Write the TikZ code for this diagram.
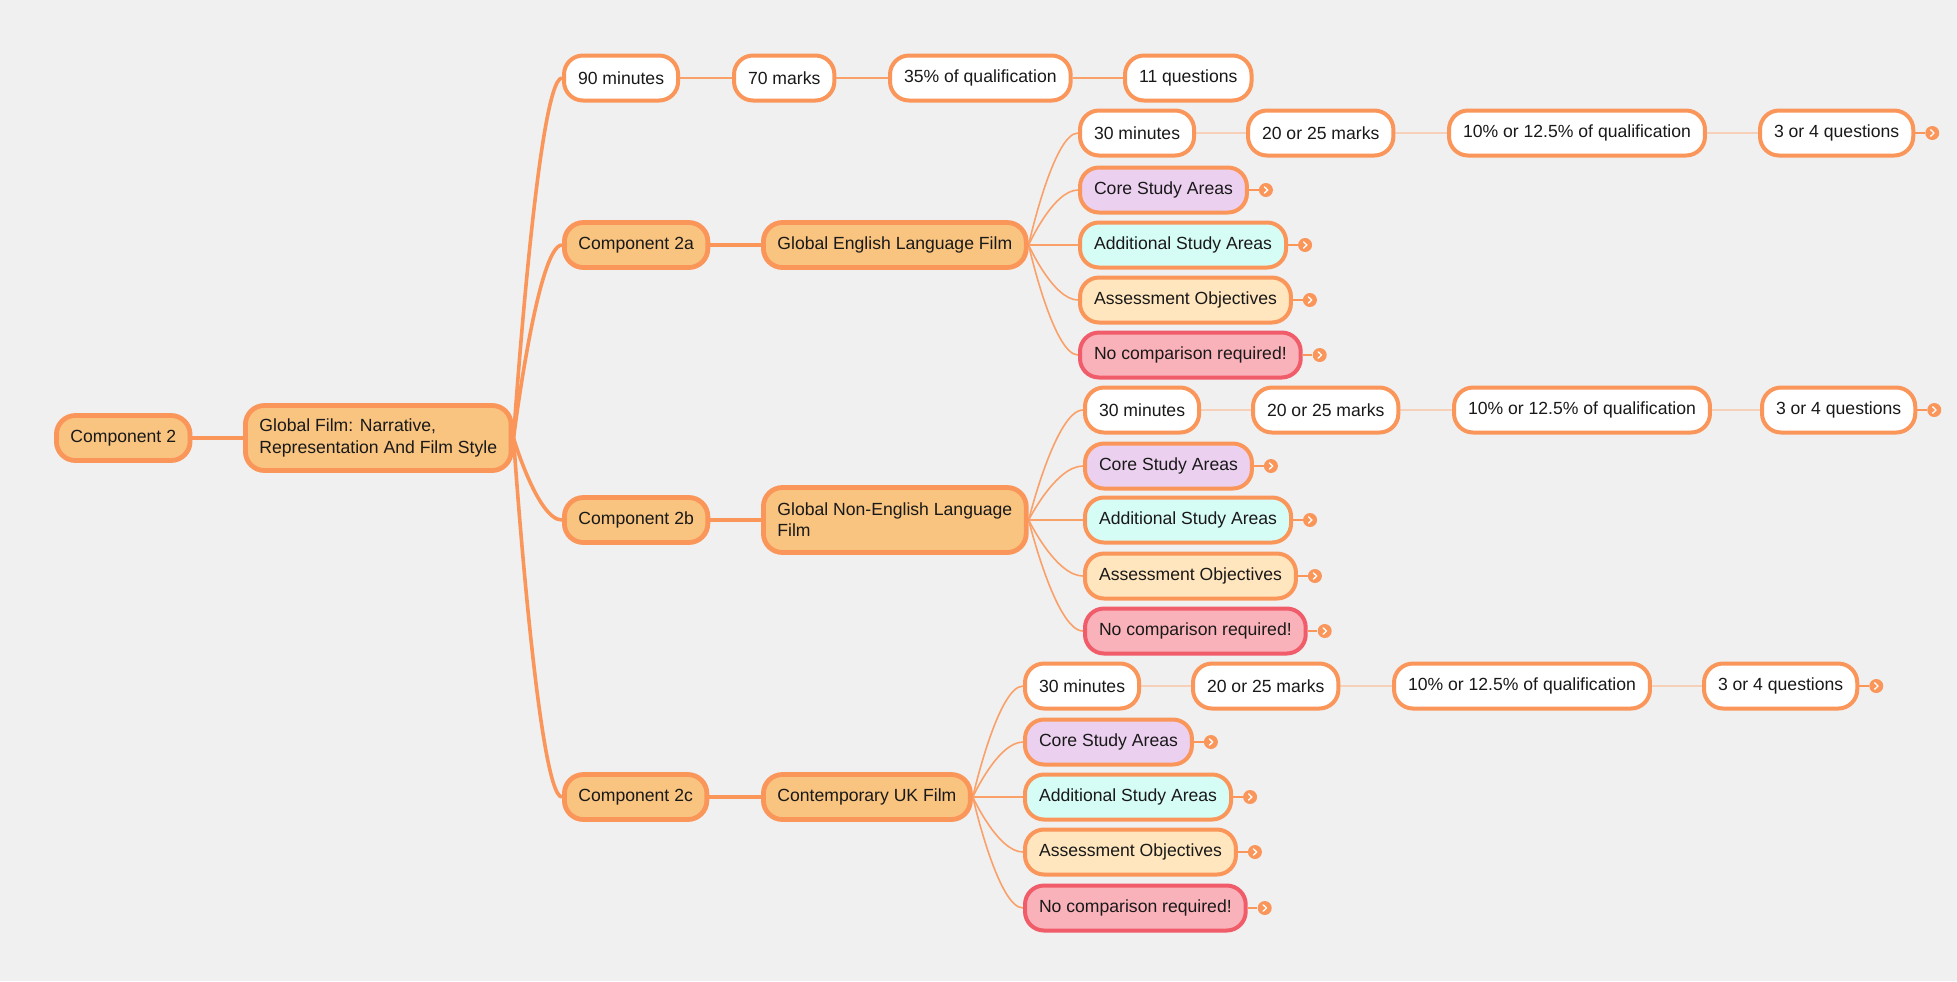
\documentclass[tikz,border=0pt]{standalone}
\usepackage{fontspec}
\setmainfont{Liberation Sans}
\usetikzlibrary{calc,backgrounds}
\definecolor{bg}{RGB}{240,240,240}
\definecolor{org}{RGB}{250,150,90}
\definecolor{orgline}{RGB}{250,160,105}
\definecolor{paleline}{RGB}{246,208,184}
\definecolor{mainfill}{RGB}{248,196,128}
\definecolor{corefill}{RGB}{236,208,240}
\definecolor{addfill}{RGB}{214,252,246}
\definecolor{assfill}{RGB}{255,230,190}
\definecolor{nofill}{RGB}{250,178,186}
\definecolor{nodraw}{RGB}{240,92,106}
\definecolor{txt}{RGB}{25,25,25}
\tikzset{
  box/.style={draw=org, line width=2pt, rounded corners=9.5pt, inner xsep=7pt, inner ysep=2pt,
    minimum height=22.5pt, anchor=west, text=txt, align=left, fill=white},
  mainbox/.style={box, fill=mainfill, line width=2.4pt},
  tallbox/.style={minimum height=32.5pt},
  corebox/.style={box, fill=corefill},
  addbox/.style={box, fill=addfill},
  assbox/.style={box, fill=assfill},
  nobox/.style={box, fill=nofill, draw=nodraw},
  dotnode/.style={circle, fill=org, minimum size=7pt, inner sep=0pt,
    path picture={\draw[white, line width=0.65pt, line cap=round, line join=round]
      ([xshift=-0.8pt,yshift=1.6pt]path picture bounding box.center) --
      ([xshift=0.9pt]path picture bounding box.center) --
      ([xshift=-0.8pt,yshift=-1.6pt]path picture bounding box.center);}},
  branch/.style={to path={let \p1=(\tikztostart), \p2=(\tikztotarget) in
    .. controls (\p1) and ({0.5*\x1+0.5*\x2},\y2) .. (\p2)}},
  thick edge/.style={draw=org, line width=1.8pt},
  thin edge/.style={draw=orgline, line width=0.8pt},
  chain/.style={draw=orgline, line width=1.1pt},
  pale/.style={draw=paleline, line width=1pt},
  stub/.style={draw=org, line width=0.9pt},
}
\begin{document}
\begin{tikzpicture}[x=0.5pt,y=-0.5pt, font=\fontsize{8.8pt}{10.6pt}\selectfont]
\useasboundingbox (0,0) rectangle (1957,981);
% root
\node[mainbox] (c2) at (54,438) {Component 2};
\node[mainbox,tallbox] (gf) at (243,438) {Global Film: Narrative,\\Representation And Film Style};
% top chain
\node[box] (t1) at (562,78) {90 minutes};
\node[box] (t2) at (732,78) {70 marks};
\node[box] (t3) at (888,78) {35\% of qualification};
\node[box] (t4) at (1123,78) {11 questions};
% components
\node[mainbox] (ca) at (562,245) {Component 2a};
\node[mainbox] (cb) at (562,520) {Component 2b};
\node[mainbox] (cc) at (562,797) {Component 2c};
\node[mainbox] (fa) at (761,245) {Global English Language Film};
\node[mainbox,tallbox] (fb) at (761,520) {Global Non-English Language\\Film};
\node[mainbox] (fc) at (761,797) {Contemporary UK Film};
% 2a children
\node[box] (a1) at (1078,133) {30 minutes};
\node[box] (a1b) at (1246,133) {20 or 25 marks};
\node[box] (a1c) at (1447,133) {10\% or 12.5\% of qualification};
\node[box] (a1d) at (1758,133) {3 or 4 questions};
\node[corebox] (a2) at (1078,190) {Core Study Areas};
\node[addbox] (a3) at (1078,245) {Additional Study Areas};
\node[assbox] (a4) at (1078,300) {Assessment Objectives};
\node[nobox] (a5) at (1078,355) {No comparison required!};
% 2b children
\node[box] (b1) at (1083,410) {30 minutes};
\node[box] (b1b) at (1251,410) {20 or 25 marks};
\node[box] (b1c) at (1452,410) {10\% or 12.5\% of qualification};
\node[box] (b1d) at (1760,410) {3 or 4 questions};
\node[corebox] (b2) at (1083,466) {Core Study Areas};
\node[addbox] (b3) at (1083,520) {Additional Study Areas};
\node[assbox] (b4) at (1083,576) {Assessment Objectives};
\node[nobox] (b5) at (1083,631) {No comparison required!};
% 2c children
\node[box] (k1) at (1023,686) {30 minutes};
\node[box] (k1b) at (1191,686) {20 or 25 marks};
\node[box] (k1c) at (1392,686) {10\% or 12.5\% of qualification};
\node[box] (k1d) at (1702,686) {3 or 4 questions};
\node[corebox] (k2) at (1023,742) {Core Study Areas};
\node[addbox] (k3) at (1023,797) {Additional Study Areas};
\node[assbox] (k4) at (1023,852) {Assessment Objectives};
\node[nobox] (k5) at (1023,908) {No comparison required!};
% collapse dots
\foreach \n in {a1d,a2,a3,a4,a5,b1d,b2,b3,b4,b5,k1d,k2,k3,k4,k5}{
  \node[dotnode] (dot\n) at ($(\n.east)+(17,0)$) {};
}
\begin{scope}[on background layer]
\fill[bg] (0,0) rectangle (1957,981);
\draw[draw=org, line width=2.4pt] (c2.east) -- (gf.west);
\foreach \t in {t1,ca,cb,cc}{
  \draw[thick edge] (gf.east) to[branch] (\t.west);
}
\draw[chain] (t1.east) -- (t2.west);
\draw[chain] (t2.east) -- (t3.west);
\draw[chain] (t3.east) -- (t4.west);
\draw[thick edge] (ca.east) -- (fa.west);
\draw[thick edge] (cb.east) -- (fb.west);
\draw[thick edge] (cc.east) -- (fc.west);
\foreach \ff/\q in {fa/a,fb/b,fc/k}{
  \foreach \i in {1,...,5}{
    \draw[thin edge] (\ff.east) to[branch] (\q\i.west);
  }
  \draw[pale] (\q1.east) -- (\q1b.west);
  \draw[pale] (\q1b.east) -- (\q1c.west);
  \draw[pale] (\q1c.east) -- (\q1d.west);
}
\foreach \n in {a1d,a2,a3,a4,a5,b1d,b2,b3,b4,b5,k1d,k2,k3,k4,k5}{
  \draw[stub] (\n.east) -- (dot\n);
}
\end{scope}
\end{tikzpicture}
\end{document}
